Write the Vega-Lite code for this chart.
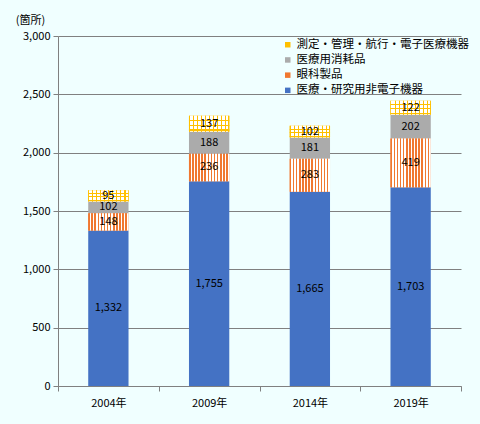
{
  "$schema": "https://vega.github.io/schema/vega-lite/v6.json",
  "width": 403,
  "height": 350,
  "autosize": {"type": "none"},
  "padding": {"left": 58, "top": 36, "right": 19, "bottom": 38},
  "background": "#F0FFFF",
  "config": {
    "font": "Noto Sans CJK JP",
    "view": {"stroke": null}
  },
  "data": {
    "values": [
      {"year": "2004年", "cat": "医療・研究用非電子機器", "ord": 1, "value": 1332},
      {"year": "2004年", "cat": "眼科製品", "ord": 2, "value": 148},
      {"year": "2004年", "cat": "医療用消耗品", "ord": 3, "value": 102},
      {"year": "2004年", "cat": "測定・管理・航行・電子医療機器", "ord": 4, "value": 95},
      {"year": "2009年", "cat": "医療・研究用非電子機器", "ord": 1, "value": 1755},
      {"year": "2009年", "cat": "眼科製品", "ord": 2, "value": 236},
      {"year": "2009年", "cat": "医療用消耗品", "ord": 3, "value": 188},
      {"year": "2009年", "cat": "測定・管理・航行・電子医療機器", "ord": 4, "value": 137},
      {"year": "2014年", "cat": "医療・研究用非電子機器", "ord": 1, "value": 1665},
      {"year": "2014年", "cat": "眼科製品", "ord": 2, "value": 283},
      {"year": "2014年", "cat": "医療用消耗品", "ord": 3, "value": 181},
      {"year": "2014年", "cat": "測定・管理・航行・電子医療機器", "ord": 4, "value": 102},
      {"year": "2019年", "cat": "医療・研究用非電子機器", "ord": 1, "value": 1703},
      {"year": "2019年", "cat": "眼科製品", "ord": 2, "value": 419},
      {"year": "2019年", "cat": "医療用消耗品", "ord": 3, "value": 202},
      {"year": "2019年", "cat": "測定・管理・航行・電子医療機器", "ord": 4, "value": 122}
    ]
  },
  "transform": [
    {"stack": "value", "groupby": ["year"], "sort": [{"field": "ord", "order": "ascending"}], "as": ["y0", "y1"]},
    {"calculate": "(datum.y0 + datum.y1) / 2", "as": "mid"}
  ],
  "encoding": {
    "x": {
      "field": "year",
      "type": "nominal",
      "sort": null,
      "scale": {"paddingInner": 0, "paddingOuter": 0},
      "axis": {
        "title": null,
        "labelAngle": 0,
        "labelFontSize": 11,
        "labelColor": "#000000",
        "labelPadding": 6,
        "tickBand": "extent",
        "tickSize": 5,
        "tickColor": "#808080",
        "domainColor": "#808080",
        "grid": false
      }
    }
  },
  "layer": [
    {
      "mark": {"type": "bar", "width": {"band": 0.4}},
      "encoding": {
        "y": {
          "field": "y1",
          "type": "quantitative",
          "title": "(箇所)",
          "scale": {"domain": [0, 3000]},
          "axis": {
            "titleAngle": 0,
            "titleAlign": "center",
            "titleBaseline": "middle",
            "titleX": -28,
            "titleY": -16,
            "titleFontSize": 11,
            "titleFontWeight": "normal",
            "titleColor": "#000000",
            "values": [0, 500, 1000, 1500, 2000, 2500, 3000],
            "labelExpr": "format(datum.value, ',')",
            "labelFontSize": 11,
            "labelColor": "#000000",
            "labelPadding": 3,
            "tickSize": 5,
            "tickColor": "#808080",
            "domainColor": "#808080",
            "grid": true,
            "gridColor": "#808080"
          }
        },
        "y2": {"field": "y0"},
        "color": {
          "field": "cat",
          "type": "nominal",
          "scale": {
            "domain": ["測定・管理・航行・電子医療機器", "医療用消耗品", "眼科製品", "医療・研究用非電子機器"],
            "range": ["#FFC000", "#ABABAB", "#F07830", "#4472C4"]
          },
          "legend": {
            "title": null,
            "orient": "none",
            "legendX": 224,
            "legendY": 3,
            "symbolType": "square",
            "symbolSize": 30,
            "symbolStrokeWidth": 0,
            "labelFontSize": 11.5,
            "labelLimit": 0,
            "labelColor": "#000000",
            "labelOffset": 3,
            "rowPadding": 2.2
          }
        }
      }
    },
    {
      "transform": [{"filter": "datum.cat === '眼科製品'"}],
      "mark": {
        "type": "bar",
        "width": {"band": 0.4},
        "fill": {
          "gradient": "linear", "x1": 0, "y1": 0, "x2": 1, "y2": 0,
          "stops": [
            {"offset": 0, "color": "#F07830"}, {"offset": 0.0385, "color": "#F07830"}, {"offset": 0.0385, "color": "#FFFFFF"}, {"offset": 0.0769, "color": "#FFFFFF"},
            {"offset": 0.0769, "color": "#F07830"}, {"offset": 0.1154, "color": "#F07830"}, {"offset": 0.1154, "color": "#FFFFFF"}, {"offset": 0.1538, "color": "#FFFFFF"},
            {"offset": 0.1538, "color": "#F07830"}, {"offset": 0.1923, "color": "#F07830"}, {"offset": 0.1923, "color": "#FFFFFF"}, {"offset": 0.2308, "color": "#FFFFFF"},
            {"offset": 0.2308, "color": "#F07830"}, {"offset": 0.2692, "color": "#F07830"}, {"offset": 0.2692, "color": "#FFFFFF"}, {"offset": 0.3077, "color": "#FFFFFF"},
            {"offset": 0.3077, "color": "#F07830"}, {"offset": 0.3462, "color": "#F07830"}, {"offset": 0.3462, "color": "#FFFFFF"}, {"offset": 0.3846, "color": "#FFFFFF"},
            {"offset": 0.3846, "color": "#F07830"}, {"offset": 0.4231, "color": "#F07830"}, {"offset": 0.4231, "color": "#FFFFFF"}, {"offset": 0.4615, "color": "#FFFFFF"},
            {"offset": 0.4615, "color": "#F07830"}, {"offset": 0.5, "color": "#F07830"}, {"offset": 0.5, "color": "#FFFFFF"}, {"offset": 0.5385, "color": "#FFFFFF"},
            {"offset": 0.5385, "color": "#F07830"}, {"offset": 0.5769, "color": "#F07830"}, {"offset": 0.5769, "color": "#FFFFFF"}, {"offset": 0.6154, "color": "#FFFFFF"},
            {"offset": 0.6154, "color": "#F07830"}, {"offset": 0.6538, "color": "#F07830"}, {"offset": 0.6538, "color": "#FFFFFF"}, {"offset": 0.6923, "color": "#FFFFFF"},
            {"offset": 0.6923, "color": "#F07830"}, {"offset": 0.7308, "color": "#F07830"}, {"offset": 0.7308, "color": "#FFFFFF"}, {"offset": 0.7692, "color": "#FFFFFF"},
            {"offset": 0.7692, "color": "#F07830"}, {"offset": 0.8077, "color": "#F07830"}, {"offset": 0.8077, "color": "#FFFFFF"}, {"offset": 0.8462, "color": "#FFFFFF"},
            {"offset": 0.8462, "color": "#F07830"}, {"offset": 0.8846, "color": "#F07830"}, {"offset": 0.8846, "color": "#FFFFFF"}, {"offset": 0.9231, "color": "#FFFFFF"},
            {"offset": 0.9231, "color": "#F07830"}, {"offset": 0.9615, "color": "#F07830"}, {"offset": 0.9615, "color": "#FFFFFF"}, {"offset": 1, "color": "#FFFFFF"}
          ]
        }
      },
      "encoding": {
        "y": {"field": "y1", "type": "quantitative", "title": "(箇所)"},
        "y2": {"field": "y0"}
      }
    },
    {
      "transform": [{"filter": "datum.cat === '測定・管理・航行・電子医療機器'"}],
      "mark": {
        "type": "bar",
        "width": {"band": 0.4},
        "fill": {
          "gradient": "linear", "x1": 0, "y1": 0, "x2": 1, "y2": 0,
          "stops": [
            {"offset": 0, "color": "#FFC000"}, {"offset": 0.025, "color": "#FFC000"}, {"offset": 0.025, "color": "#FFFFFF"}, {"offset": 0.1, "color": "#FFFFFF"},
            {"offset": 0.1, "color": "#FFC000"}, {"offset": 0.125, "color": "#FFC000"}, {"offset": 0.125, "color": "#FFFFFF"}, {"offset": 0.2, "color": "#FFFFFF"},
            {"offset": 0.2, "color": "#FFC000"}, {"offset": 0.225, "color": "#FFC000"}, {"offset": 0.225, "color": "#FFFFFF"}, {"offset": 0.3, "color": "#FFFFFF"},
            {"offset": 0.3, "color": "#FFC000"}, {"offset": 0.325, "color": "#FFC000"}, {"offset": 0.325, "color": "#FFFFFF"}, {"offset": 0.4, "color": "#FFFFFF"},
            {"offset": 0.4, "color": "#FFC000"}, {"offset": 0.425, "color": "#FFC000"}, {"offset": 0.425, "color": "#FFFFFF"}, {"offset": 0.5, "color": "#FFFFFF"},
            {"offset": 0.5, "color": "#FFC000"}, {"offset": 0.525, "color": "#FFC000"}, {"offset": 0.525, "color": "#FFFFFF"}, {"offset": 0.6, "color": "#FFFFFF"},
            {"offset": 0.6, "color": "#FFC000"}, {"offset": 0.625, "color": "#FFC000"}, {"offset": 0.625, "color": "#FFFFFF"}, {"offset": 0.7, "color": "#FFFFFF"},
            {"offset": 0.7, "color": "#FFC000"}, {"offset": 0.725, "color": "#FFC000"}, {"offset": 0.725, "color": "#FFFFFF"}, {"offset": 0.8, "color": "#FFFFFF"},
            {"offset": 0.8, "color": "#FFC000"}, {"offset": 0.825, "color": "#FFC000"}, {"offset": 0.825, "color": "#FFFFFF"}, {"offset": 0.9, "color": "#FFFFFF"},
            {"offset": 0.9, "color": "#FFC000"}, {"offset": 0.925, "color": "#FFC000"}, {"offset": 0.925, "color": "#FFFFFF"}, {"offset": 0.975, "color": "#FFFFFF"},
            {"offset": 0.975, "color": "#FFC000"}, {"offset": 1, "color": "#FFC000"}
          ]
        }
      },
      "encoding": {
        "y": {"field": "y1", "type": "quantitative", "title": "(箇所)"},
        "y2": {"field": "y0"}
      }
    },
    {
      "transform": [{"filter": "datum.cat === '測定・管理・航行・電子医療機器'"}],
      "mark": {
        "type": "bar",
        "width": {"band": 0.4},
        "fill": {
          "gradient": "linear", "x1": 0, "y1": 0, "x2": 0, "y2": 1,
          "stops": [
            {"offset": 0, "color": "rgba(255,255,255,0)"}, {"offset": 0.25, "color": "rgba(255,255,255,0)"}, {"offset": 0.25, "color": "#FFC000"}, {"offset": 0.32, "color": "#FFC000"},
            {"offset": 0.32, "color": "rgba(255,255,255,0)"}, {"offset": 0.55, "color": "rgba(255,255,255,0)"}, {"offset": 0.55, "color": "#FFC000"}, {"offset": 0.62, "color": "#FFC000"},
            {"offset": 0.62, "color": "rgba(255,255,255,0)"}, {"offset": 0.85, "color": "rgba(255,255,255,0)"}, {"offset": 0.85, "color": "#FFC000"}, {"offset": 0.92, "color": "#FFC000"},
            {"offset": 0.92, "color": "rgba(255,255,255,0)"}, {"offset": 1, "color": "rgba(255,255,255,0)"}
          ]
        }
      },
      "encoding": {
        "y": {"field": "y1", "type": "quantitative", "title": "(箇所)"},
        "y2": {"field": "y0"}
      }
    },
    {
      "mark": {"type": "text", "fontSize": 11, "color": "#000000", "baseline": "middle"},
      "encoding": {
        "y": {"field": "mid", "type": "quantitative", "title": "(箇所)"},
        "text": {"field": "value", "type": "quantitative", "format": ","}
      }
    }
  ]
}
